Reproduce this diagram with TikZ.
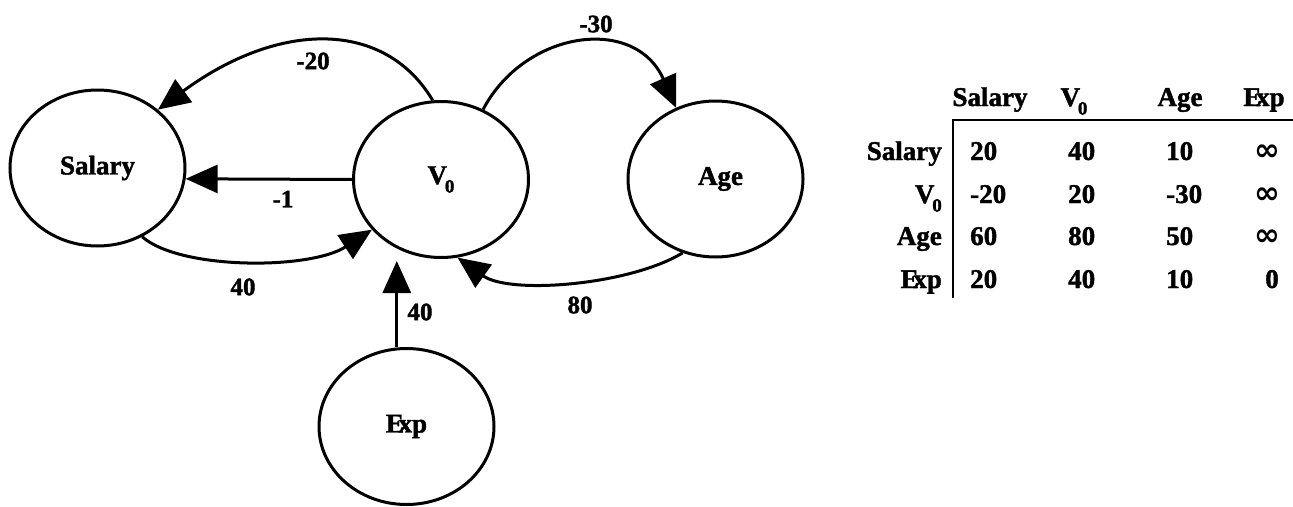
\documentclass[tikz,border=0pt]{standalone}
\usepackage{fontspec}
\setmainfont{Liberation Serif}[BoldFeatures={FakeBold=1.5}]
\newfontfamily\djv{DejaVu Sans}
\usetikzlibrary{arrows.meta,shapes.geometric}
\newcommand\Vz{V\kern-0.08em\raisebox{-0.32em}{\fontsize{19}{19}\selectfont 0}}
\newcommand\Ex{E\kern-0.2em xp}
\newcommand\Inf{{\djv\bfseries\fontsize{31}{31}\selectfont ∞}}
\begin{document}
\begin{tikzpicture}[x=1pt,y=-1pt,
  state/.style={ellipse, draw, line width=3pt, minimum width=175pt, minimum height=156pt, inner sep=0pt, font=\fontsize{27}{30}\selectfont\bfseries},
  edge/.style={line width=3pt, -{Triangle[length=32pt,width=28pt]}},
  wlab/.style={font=\fontsize{25}{28}\selectfont\bfseries, inner sep=0pt},
  tab/.style={font=\fontsize{27}{30}\selectfont\bfseries, inner sep=0pt},
  tabrule/.style={line width=2.6pt}]
\useasboundingbox (0,0) rectangle (1293,506);
\fill[white] (0,0) rectangle (1293,506);
% nodes
\node[state] (Salary) at (97.5,168) {Salary};
\node[state] (V0) at (441,179.5) {\raisebox{-5pt}{\Vz}};
\node[state] (Age) at (715.5,179) {\hspace*{10pt}Age};
\node[state] (Exp) at (406.5,426.5) {\Ex};
% edges
\draw[edge] (V0.96) .. controls (385,20) and (280,20) .. (Salary.44);
\draw[edge] (V0.180) -- (Salary.-7);
\draw[edge] (Salary.-57) .. controls (180,270) and (310,270) .. (V0.-144);
\draw[edge] (V0.59) .. controls (525,30) and (635,15) .. (Age.119);
\draw[edge] (Age.-114) .. controls (630,285) and (510,295) .. (V0.-78);
\draw[edge, shorten >=2pt] (Exp.97) -- (Exp.97 |- V0.south);
% edge labels
\node[wlab] (l20) at (313,61) {-20};
\node[wlab] (l1) at (283,199) {-1};
\node[wlab] (l40a) at (243,287) {40};
\node[wlab] (l30) at (596,24) {-30};
\node[wlab] (l80) at (580,305) {80};
\node[wlab] (l40b) at (420,312) {40};
% table
\node[tab, anchor=base] (hS) at (990,106) {Salary};
\node[tab, anchor=base] (hV) at (1074,106) {\Vz};
\node[tab, anchor=base] (hA) at (1180,106) {Age};
\node[tab, anchor=base] (hE) at (1264,106) {\Ex};
\node[tab, anchor=base east] (rS) at (942,160) {Salary};
\node[tab, anchor=base east] (rV) at (942,203) {\Vz};
\node[tab, anchor=base east] (rA) at (942,245) {Age};
\node[tab, anchor=base east] (rE) at (942,288) {\Ex};
\node[tab, anchor=base west] (c11) at (970,160) {20};
\node[tab, anchor=base west] (c12) at (1068,160) {40};
\node[tab, anchor=base west] (c13) at (1166,160) {10};
\node[tab, anchor=base east] (c14) at (1281,160) {\Inf};
\node[tab, anchor=base west] (c21) at (970,203) {-20};
\node[tab, anchor=base west] (c22) at (1068,203) {20};
\node[tab, anchor=base west] (c23) at (1166,203) {-30};
\node[tab, anchor=base east] (c24) at (1281,203) {\Inf};
\node[tab, anchor=base west] (c31) at (970,245) {60};
\node[tab, anchor=base west] (c32) at (1068,245) {80};
\node[tab, anchor=base west] (c33) at (1166,245) {50};
\node[tab, anchor=base east] (c34) at (1281,245) {\Inf};
\node[tab, anchor=base west] (c41) at (970,288) {20};
\node[tab, anchor=base west] (c42) at (1068,288) {40};
\node[tab, anchor=base west] (c43) at (1166,288) {10};
\node[tab, anchor=base east] (c44) at (1279,288) {0};
\coordinate (tl) at (953,120);
\coordinate (tr) at (1293,120);
\coordinate (bl) at (953,298);
\draw[tabrule] (tr) -- (tl) -- (bl);
\end{tikzpicture}
\end{document}
